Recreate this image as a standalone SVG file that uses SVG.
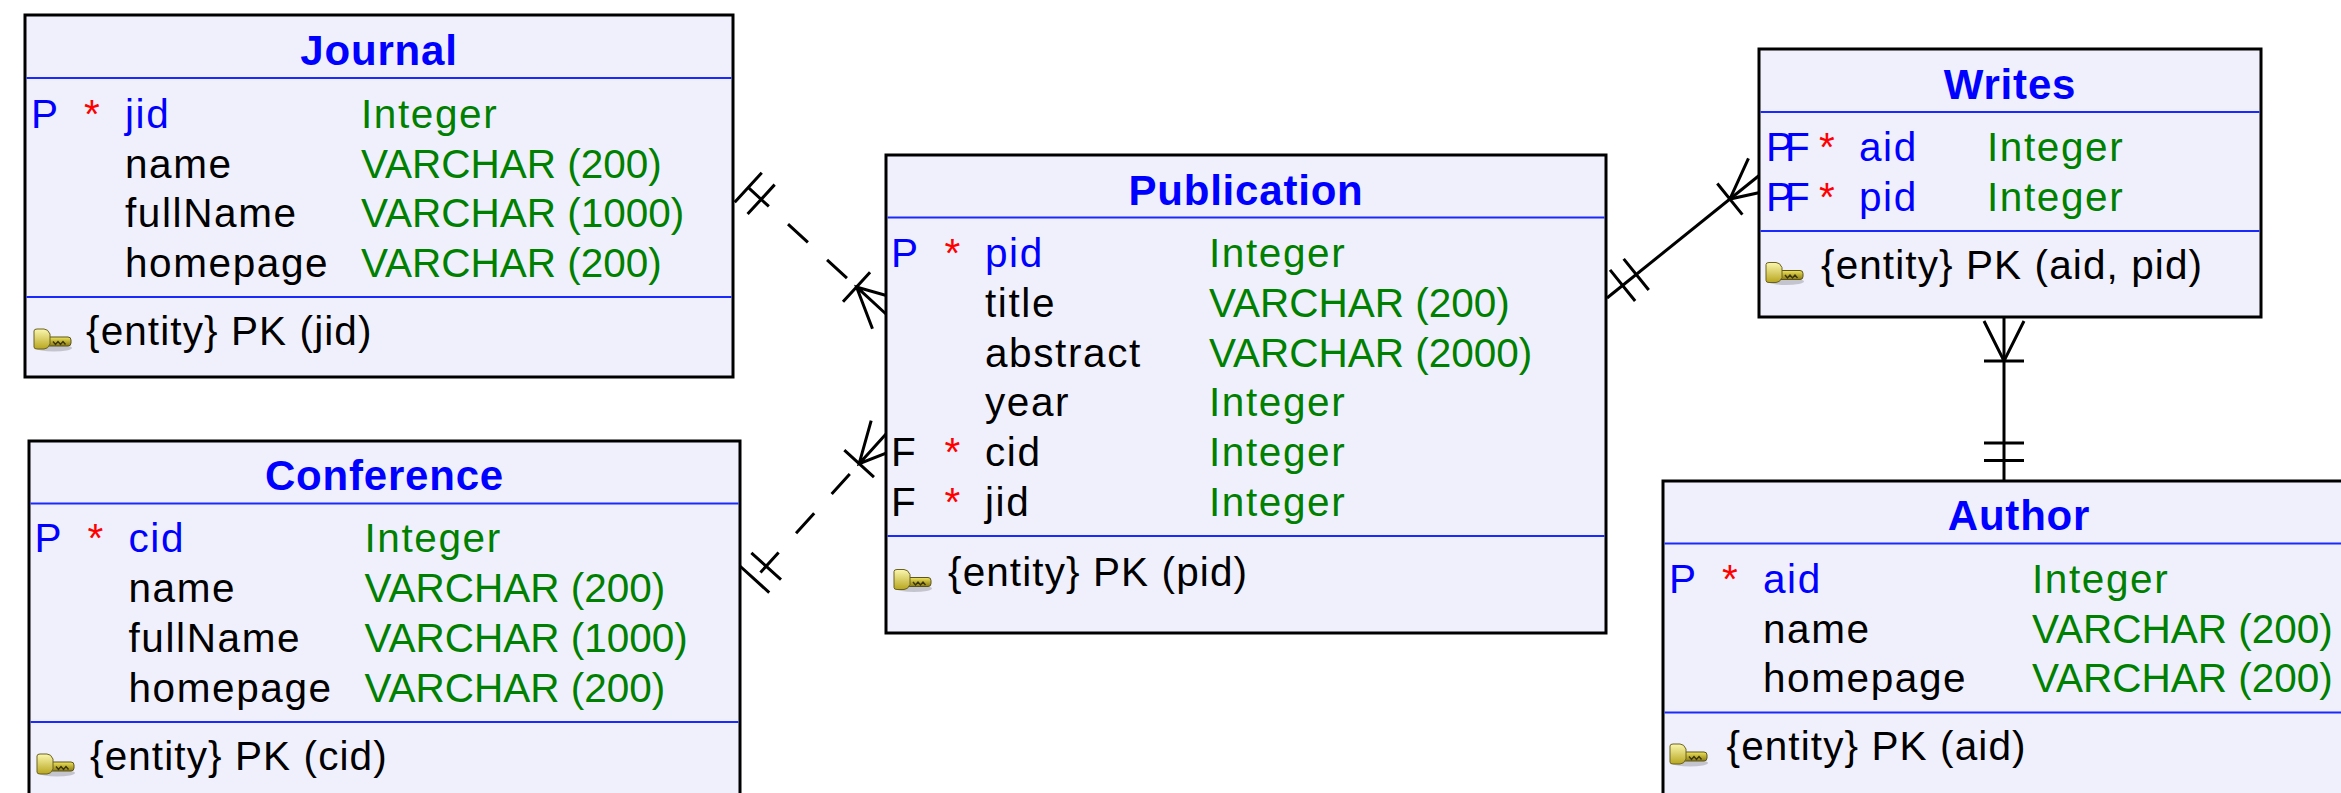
<svg xmlns="http://www.w3.org/2000/svg" width="2341" height="793" viewBox="0 0 2341 793">
<defs>
<linearGradient id="gBow" x1="0" y1="0" x2="0" y2="1"><stop offset="0" stop-color="#fbf7b0"/><stop offset="1" stop-color="#b8a61e"/></linearGradient>
<linearGradient id="gShaft" x1="0" y1="0" x2="0" y2="1"><stop offset="0" stop-color="#efe45a"/><stop offset="1" stop-color="#8a7a12"/></linearGradient>
<g id="key">
 <ellipse cx="21" cy="20" rx="18" ry="3.5" fill="#000" opacity="0.18"/>
 <rect x="12" y="9" width="26" height="9" rx="3" fill="url(#gShaft)" stroke="#5d5418" stroke-width="1"/>
 <path d="M20 13.5 l2.5 3 l2.5 -3 l2.5 3 l2.5 -3 l2.5 3" fill="none" stroke="#3a3408" stroke-width="1.4"/>
 <path d="M1 3 q0 -2 3 -2 h7 q4 0 6 5 v10 q-2 5 -6 5 h-7 q-3 0 -3 -2 z" fill="url(#gBow)" stroke="#6a6220" stroke-width="1"/>
</g>
<style>
 .box{fill:#f0f0fc;stroke:#000;stroke-width:3}
 .sep{stroke:#1a2aff;stroke-width:2}
 text{font-family:"Liberation Sans",Arial,sans-serif;font-size:40.5px;letter-spacing:1.6px}
 .title{font-weight:bold;fill:#0000ff;text-anchor:middle;font-size:42px;letter-spacing:0.8px}
 .b{fill:#0000ff}
 .k{fill:#000}
 .g{fill:#008000}
 .v{fill:#008000;letter-spacing:0}
 .pk{fill:#000;letter-spacing:1.1px}
 .pf{fill:#0000ff;letter-spacing:-8px}
 .r{fill:#ff0000;text-anchor:middle;letter-spacing:0}
 .ln{fill:none;stroke:#000;stroke-width:3}
 .dash{stroke-dasharray:27 26}
</style>
</defs>
<rect width="2341" height="793" fill="#ffffff"/>

<g id="connectors">
 <g id="c-journal-publication">
  <path class="ln" d="M734.71 202.26 L761.76 172.80 M747.60 214.09 L774.66 184.63"/>
  <path class="ln dash" d="M748.97 188.20 L856.53 286.94"/>
  <path class="ln" d="M843.0 301.7 L870.06 272.21 M899.53 299.26 L856.53 286.94 L872.47 328.78 M856.53 286.94 L886 314"/>
 </g>
 <g id="c-conference-publication">
  <path class="ln" d="M769.25 592.61 L739.61 565.75 M781.0 579.64 L751.36 552.78"/>
  <path class="ln dash" d="M760.47 572.51 L859.14 463.64"/>
  <path class="ln" d="M873.96 477.07 L844.32 450.21 M871.18 420.57 L859.14 463.64 L900.82 447.43 M859.14 463.64 L886 434"/>
 </g>
 <g id="c-publication-writes">
  <path class="ln" d="M1607 298 L1761 174"/>
  <path class="ln" d="M1635.12 301.04 L1610.04 269.88 M1648.75 290.06 L1623.67 258.9"/>
  <path class="ln" d="M1742.39 214.66 L1717.31 183.5 M1748.46 158.42 L1729.85 199.08 L1773.54 189.58"/>
 </g>
 <g id="c-writes-author">
  <path class="ln" d="M2004 317 L2004 481"/>
  <path class="ln" d="M1984 361 L2024 361 M1984 321 L2004 361 L2024 321"/>
  <path class="ln" d="M1984 443 L2024 443 M1984 460.5 L2024 460.5"/>
 </g>
</g>

<g id="node-journal">
 <rect class="box" x="25" y="15" width="708" height="362"/>
 <text class="title" x="379" y="64.5">Journal</text>
 <line class="sep" x1="26.5" y1="78" x2="731.5" y2="78"/>
 <text class="b" x="31" y="127.5">P</text><text class="r" x="92" y="127.5">*</text><text class="b" x="125" y="127.5">jid</text><text class="g" x="361" y="127.5">Integer</text>
 <text class="k" x="125" y="177.5">name</text><text class="v" x="361" y="177.5">VARCHAR (200)</text>
 <text class="k" x="125" y="227">fullName</text><text class="v" x="361" y="227">VARCHAR (1000)</text>
 <text class="k" x="125" y="277">homepage</text><text class="v" x="361" y="277">VARCHAR (200)</text>
 <line class="sep" x1="26.5" y1="297" x2="731.5" y2="297"/>
 <use href="#key" x="33" y="328"/>
 <text class="pk" x="86" y="345">{entity} PK (jid)</text>
</g>

<g id="node-conference">
 <rect class="box" x="29" y="441" width="711" height="400"/>
 <text class="title" x="384.5" y="489.5">Conference</text>
 <line class="sep" x1="30.5" y1="503.5" x2="738.5" y2="503.5"/>
 <text class="b" x="34.5" y="552">P</text><text class="r" x="95.5" y="552">*</text><text class="b" x="128.5" y="552">cid</text><text class="g" x="364.5" y="552">Integer</text>
 <text class="k" x="128.5" y="602">name</text><text class="v" x="364.5" y="602">VARCHAR (200)</text>
 <text class="k" x="128.5" y="652">fullName</text><text class="v" x="364.5" y="652">VARCHAR (1000)</text>
 <text class="k" x="128.5" y="702">homepage</text><text class="v" x="364.5" y="702">VARCHAR (200)</text>
 <line class="sep" x1="30.5" y1="722" x2="738.5" y2="722"/>
 <use href="#key" x="36" y="753"/>
 <text class="pk" x="90" y="770">{entity} PK (cid)</text>
</g>

<g id="node-publication">
 <rect class="box" x="886" y="155" width="720" height="478"/>
 <text class="title" x="1246" y="205">Publication</text>
 <line class="sep" x1="887.5" y1="217.5" x2="1604.5" y2="217.5"/>
 <text class="b" x="891" y="267">P</text><text class="r" x="952.5" y="267">*</text><text class="b" x="985" y="267">pid</text><text class="g" x="1209" y="267">Integer</text>
 <text class="k" x="985" y="317">title</text><text class="v" x="1209" y="317">VARCHAR (200)</text>
 <text class="k" x="985" y="366.5">abstract</text><text class="v" x="1209" y="366.5">VARCHAR (2000)</text>
 <text class="k" x="985" y="416">year</text><text class="g" x="1209" y="416">Integer</text>
 <text class="k" x="891" y="466">F</text><text class="r" x="952.5" y="466">*</text><text class="k" x="985" y="466">cid</text><text class="g" x="1209" y="466">Integer</text>
 <text class="k" x="891" y="516">F</text><text class="r" x="952.5" y="516">*</text><text class="k" x="985" y="516">jid</text><text class="g" x="1209" y="516">Integer</text>
 <line class="sep" x1="887.5" y1="536" x2="1604.5" y2="536"/>
 <use href="#key" x="893" y="568.5"/>
 <text class="pk" x="948" y="585.5">{entity} PK (pid)</text>
</g>

<g id="node-writes">
 <rect class="box" x="1759" y="49" width="502" height="268"/>
 <text class="title" x="2010" y="98.5">Writes</text>
 <line class="sep" x1="1760.5" y1="112" x2="2259.5" y2="112"/>
 <text class="pf" x="1766" y="161">PF</text><text class="r" x="1827" y="161">*</text><text class="b" x="1859" y="161">aid</text><text class="g" x="1987" y="161">Integer</text>
 <text class="pf" x="1766" y="211">PF</text><text class="r" x="1827" y="211">*</text><text class="b" x="1859" y="211">pid</text><text class="g" x="1987" y="211">Integer</text>
 <line class="sep" x1="1760.5" y1="231" x2="2259.5" y2="231"/>
 <use href="#key" x="1765" y="261.5"/>
 <text class="pk" x="1821" y="278.5">{entity} PK (aid, pid)</text>
</g>

<g id="node-author">
 <rect class="box" x="1663" y="481" width="712" height="400"/>
 <text class="title" x="2019" y="530">Author</text>
 <line class="sep" x1="1664.5" y1="543.5" x2="2373.5" y2="543.5"/>
 <text class="b" x="1669" y="593">P</text><text class="r" x="1730" y="593">*</text><text class="b" x="1763" y="593">aid</text><text class="g" x="2032" y="593">Integer</text>
 <text class="k" x="1763" y="642.5">name</text><text class="v" x="2032" y="642.5">VARCHAR (200)</text>
 <text class="k" x="1763" y="692">homepage</text><text class="v" x="2032" y="692">VARCHAR (200)</text>
 <line class="sep" x1="1664.5" y1="712.5" x2="2373.5" y2="712.5"/>
 <use href="#key" x="1669" y="743"/>
 <text class="pk" x="1726.5" y="760">{entity} PK (aid)</text>
</g>
</svg>
